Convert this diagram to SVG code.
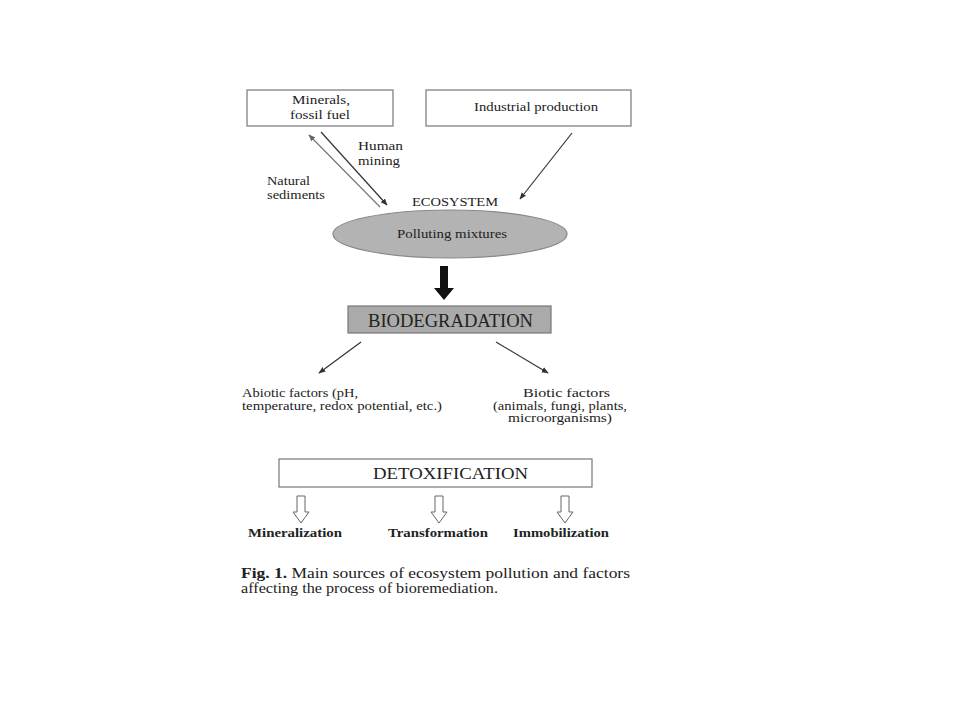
<svg xmlns="http://www.w3.org/2000/svg" width="960" height="720" viewBox="0 0 960 720">
<style>
text{font-family:"Liberation Serif","Times New Roman",serif;fill:#222}
.box{fill:#fff;stroke:#777;stroke-width:1.2}
.t13{font-size:13.5px}
.t12{font-size:12.5px}
.t11{font-size:11.5px}
.b{font-weight:bold;font-size:13px}
.ln{stroke:#333;stroke-width:1.2;fill:none}
.hol{fill:#fff;stroke:#666;stroke-width:1}
</style>
<defs>
<marker id="ah" viewBox="0 0 10 10" refX="9" refY="5" markerWidth="7" markerHeight="7" orient="auto" markerUnits="userSpaceOnUse">
<path d="M0,1 L10,5 L0,9 z" fill="#333"/>
</marker>
<marker id="ahg" viewBox="0 0 10 10" refX="9" refY="5" markerWidth="7" markerHeight="7" orient="auto" markerUnits="userSpaceOnUse">
<path d="M0,1 L10,5 L0,9 z" fill="#666"/>
</marker>
</defs>
<rect width="960" height="720" fill="#fff"/>

<g id="minerals">
<rect class="box" x="247" y="90" width="146" height="36"/>
<text class="t13" x="292" y="104" textLength="58" lengthAdjust="spacingAndGlyphs">Minerals,</text>
<text class="t13" x="290" y="119" textLength="60" lengthAdjust="spacingAndGlyphs">fossil fuel</text>
</g>
<g id="industrial">
<rect class="box" x="426" y="90" width="205" height="36"/>
<text class="t13" x="474" y="111" textLength="124" lengthAdjust="spacingAndGlyphs">Industrial production</text>
</g>

<g id="connectors">
<line x1="380" y1="207" x2="309" y2="135" stroke="#777" stroke-width="1.2" marker-end="url(#ahg)"/>
<line x1="321" y1="132" x2="387" y2="205" class="ln" marker-end="url(#ah)"/>
<line x1="572" y1="133" x2="520" y2="199" class="ln" marker-end="url(#ah)"/>
<path d="M440,266 H448 V288 H454 L444,300 L434,288 H440 Z" fill="#111"/>
<line x1="361" y1="342" x2="319" y2="373" class="ln" marker-end="url(#ah)"/>
<line x1="496" y1="342" x2="548" y2="373" class="ln" marker-end="url(#ah)"/>
<path class="hol" d="M297,496 H305 V512 H309 L301,523 L293,512 H297 Z"/>
<path class="hol" d="M435,496 H443 V512 H447 L439,523 L431,512 H435 Z"/>
<path class="hol" d="M561,496 H569 V512 H573 L565,523 L557,512 H561 Z"/>
</g>

<g id="human-mining">
<text class="t13" x="358" y="150" textLength="45" lengthAdjust="spacingAndGlyphs">Human</text>
<text class="t13" x="358" y="165" textLength="42" lengthAdjust="spacingAndGlyphs">mining</text>
</g>
<g id="natural-sediments">
<text class="t13" x="267" y="185" textLength="43" lengthAdjust="spacingAndGlyphs">Natural</text>
<text class="t13" x="267" y="199" textLength="58" lengthAdjust="spacingAndGlyphs">sediments</text>
</g>

<g id="ecosystem">
<text class="t12" x="412" y="206" textLength="86" lengthAdjust="spacingAndGlyphs">ECOSYSTEM</text>
<ellipse cx="450" cy="234" rx="117" ry="24" fill="#b3b3b3" stroke="#888" stroke-width="1.2"/>
<text class="t13" x="397" y="238" textLength="110" lengthAdjust="spacingAndGlyphs">Polluting mixtures</text>
</g>

<g id="biodegradation">
<rect x="348" y="306" width="203" height="27" fill="#aaa" stroke="#777" stroke-width="1.2"/>
<text x="368" y="327" font-size="18" textLength="165" lengthAdjust="spacingAndGlyphs">BIODEGRADATION</text>
</g>

<g id="abiotic">
<text class="t11" x="242" y="397" textLength="116" lengthAdjust="spacingAndGlyphs">Abiotic factors (pH,</text>
<text class="t11" x="242" y="410" textLength="200" lengthAdjust="spacingAndGlyphs">temperature, redox potential, etc.)</text>
</g>
<g id="biotic">
<text class="t11" x="523" y="397" textLength="87" lengthAdjust="spacingAndGlyphs">Biotic factors</text>
<text class="t11" x="493" y="409.5" textLength="134" lengthAdjust="spacingAndGlyphs">(animals, fungi, plants,</text>
<text class="t11" x="508" y="422" textLength="104" lengthAdjust="spacingAndGlyphs">microorganisms)</text>
</g>

<g id="detoxification">
<rect class="box" x="279" y="459" width="313" height="28"/>
<text x="373" y="479" font-size="17" textLength="155" lengthAdjust="spacingAndGlyphs">DETOXIFICATION</text>
</g>

<g id="mineralization"><text class="b" x="248" y="537" textLength="94" lengthAdjust="spacingAndGlyphs">Mineralization</text></g>
<g id="transformation"><text class="b" x="388" y="537" textLength="100" lengthAdjust="spacingAndGlyphs">Transformation</text></g>
<g id="immobilization"><text class="b" x="513" y="537" textLength="96" lengthAdjust="spacingAndGlyphs">Immobilization</text></g>

<g id="caption">
<text font-size="14.5" x="241" y="578" textLength="389" lengthAdjust="spacingAndGlyphs"><tspan font-weight="bold">Fig. 1.</tspan> Main sources of ecosystem pollution and factors</text>
<text font-size="14.5" x="241" y="593" textLength="257" lengthAdjust="spacingAndGlyphs">affecting the process of bioremediation.</text>
</g>
</svg>
